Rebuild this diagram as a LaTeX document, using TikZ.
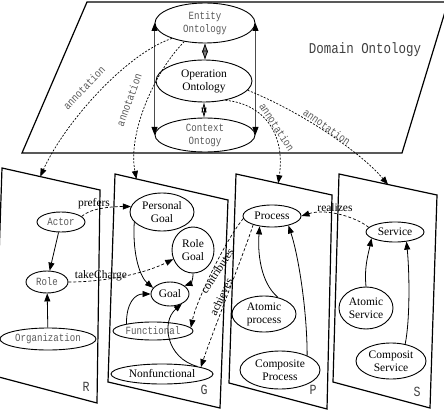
\documentclass[tikz,border=0pt]{standalone}
\usepackage{fontspec}
\setmainfont{Liberation Serif}
\newfontfamily\monofont[FakeStretch=0.83]{Liberation Mono}
\usetikzlibrary{shapes.geometric,arrows.meta}

\begin{document}
\begin{tikzpicture}[x=1pt,y=-1pt,
	tip/.style={-{Triangle[length=8pt,width=6pt]}},
	onto/.style={ellipse,draw,line width=0.9pt,inner sep=0pt,align=center},
	mono/.style={font=\monofont\fontsize{11}{13}\selectfont,text=black!65},
	seri/.style={font=\fontsize{11.5}{13}\selectfont},
	plan/.style={line width=1.2pt},
	annot/.style={tip,line width=0.7pt,dash pattern=on 2pt off 1.5pt},
	rel/.style={tip,line width=0.7pt,dash pattern=on 3pt off 2pt},
	isa/.style={tip,line width=0.8pt},
	letter/.style={font=\monofont\fontsize{14}{16}\selectfont,text=black!75}]

	\useasboundingbox (0,0) rectangle (444,414);

	% domain plane
	\draw[plan] (87,2) -- (448,2) -- (402,153) -- (22,153) -- cycle;
	\node[letter,font=\monofont\fontsize{15}{16}\selectfont] (dom) at (365,50) {Domain Ontology};

	%%% cylinder of ontologies
	\node[onto,mono,minimum width=100pt,minimum height=40pt] (ent) at (205,23) {Entity\\Ontology};
	\node[onto,seri,minimum width=96pt,minimum height=42pt] (ope) at (204,81) {Operation\\Ontology};
	\node[onto,mono,minimum width=100pt,minimum height=34pt] (ctx) at (205,135) {Context\\Ontogy};
	\draw[line width=1pt,black!70,{Triangle[length=8pt,width=6pt,black]}-{Triangle[length=8pt,width=6pt,black]}] (ent.west) -- (ctx.west);
	\draw[line width=1pt,black!70,{Triangle[length=8pt,width=6pt,black]}-{Triangle[length=8pt,width=6pt,black]}] (ent.east) -- (ctx.east);
	\draw[line width=0.8pt,{Triangle[length=9pt,width=6pt,fill=gray]}-{Triangle[length=9pt,width=6pt,fill=gray]}] (ent.south) -- (ent.south |- ope.north);
	\draw[line width=0.8pt,{Triangle[open,length=10pt,width=5pt]}-{Triangle[open,length=10pt,width=5pt]}] (ope.south) -- (ope.south |- ctx.north);

	% lower plans
	\coordinate (r1) at (2,168); \coordinate (r2) at (100,190);
	\coordinate (r3) at (97,403); \coordinate (r4) at (-5,376);
	\coordinate (g1) at (115,174); \coordinate (g2) at (228,200);
	\coordinate (g3) at (220,408); \coordinate (g4) at (108,382);
	\coordinate (p1) at (236,174); \coordinate (p2) at (332,195);
	\coordinate (p3) at (327,409); \coordinate (p4) at (229,383);
	\coordinate (s1) at (339,174); \coordinate (s2) at (437,195);
	\coordinate (s3) at (430,408); \coordinate (s4) at (333,382);
	\draw[plan] (r1) -- (r2) -- (r3) -- (r4) -- cycle;
	\draw[plan] (g1) -- (g2) -- (g3) -- (g4) -- cycle;
	\draw[plan] (p1) -- (p2) -- (p3) -- (p4) -- cycle;
	\draw[plan] (s1) -- (s2) -- (s3) -- (s4) -- cycle;
	\node[letter] (rl) at (86,387) {R};
	\node[letter] (gl) at (204,390) {G};
	\node[letter] (pl) at (313,390) {P};
	\node[letter] (sl) at (417,392) {S};

	%%% annotations
	\path (r1) -- (r2) coordinate[pos=0.39] (rtop);
	\path (g1) -- (g2) coordinate[pos=0.19] (gtop);
	\path (p1) -- (p2) coordinate[pos=0.44] (ptop);
	\path (s1) -- (s2) coordinate[pos=0.5] (stop);
	\draw[annot] (ent.205) .. controls +(-45,15) and +(25,-55) .. (rtop)
		node[mono,rotate=46] at (84,88) {annotation};
	\draw[annot] (ent.222) .. controls +(-30,30) and +(-9,-45) .. (gtop)
		node[mono,rotate=70] at (129,100) {annotation};
	\draw[annot] (ope.318) .. controls +(40,4) and +(7,-48) .. (ptop)
		node[mono,rotate=-57] at (277,127) {annotation};
	\draw[annot] (ope.348) .. controls +(50,20) and +(-30,-35) .. (stop)
		node[mono,rotate=-35] at (327,127) {annotation};

	%%% R
	\node[onto,mono,minimum width=48pt,minimum height=20pt] (act) at (61,222) {Actor};
	\node[onto,mono,minimum width=42pt,minimum height=22pt] (rol) at (47,282) {Role};
	\node[onto,mono,minimum width=96pt,minimum height=22pt] (org) at (48,339) {Organization};
	\draw[isa] (act) -- (rol);
	\draw[isa] (org) -- (rol);

	%%% G
	\node[onto,seri,minimum width=64pt,minimum height=38pt] (pgl) at (162,212) {Personal\\Goal};
	\node[onto,seri,minimum width=42pt,minimum height=46pt] (rgl) at (193,250) {Role\\Goal};
	\node[onto,seri,minimum width=38pt,minimum height=24pt] (gol) at (170,294) {Goal};
	\node[onto,mono,minimum width=80pt,minimum height=18pt] (fun) at (153,331) {Functional};
	\node[onto,seri,minimum width=102pt,minimum height=20pt] (nfn) at (162,374) {Nonfunctional};
	\draw[isa] (pgl.200) .. controls +(-2,35) and +(-12,-10) .. (gol.160);
	\draw[isa] (rgl.south) .. controls +(0,8) and +(6,-2) .. (gol.30);
	\draw[isa] (fun.165) .. controls +(0,-22) and +(-15,0) .. (gol.west);
	\draw[isa] (nfn.12) .. controls +(-31,-8) and +(-21,18) .. (gol.320);

	%%% P
	\node[onto,seri,minimum width=58pt,minimum height=22pt] (prc) at (272,216) {Process};
	\node[onto,seri,minimum width=64pt,minimum height=36pt] (apr) at (264,314) {Atomic\\process};
	\node[onto,seri,minimum width=80pt,minimum height=38pt] (cpr) at (280,370) {Composite\\Process};
	\draw[isa] (apr.50) .. controls +(-18,-15) and +(-2,25) .. (prc.220);
	\draw[isa] (cpr.28) .. controls +(0,-45) and +(10,30) .. (prc.330);

	%%% S
	\node[onto,seri,minimum width=58pt,minimum height=20pt] (srv) at (395,232) {Service};
	\node[onto,seri,minimum width=54pt,minimum height=42pt] (asv) at (366,308) {Atomic\\Service};
	\node[onto,seri,minimum width=70pt,minimum height=36pt] (csv) at (391,361) {Composit\\Service};
	\draw[isa] (asv.north) .. controls +(-2,-20) and +(-3,15) .. (srv.195);
	\draw[isa] (csv.50) .. controls +(5,-25) and +(3,30) .. (srv.320);

	%%% relations between plans
	\draw[rel] (act.15) .. controls +(8,-8) and +(-20,0) .. (pgl.170)
		node[seri] at (94,204) {prefers};
	\draw[rel] (rol.east) .. controls +(35,0) and +(-30,15) .. (rgl.205)
		node[seri] at (101,276) {takeCharge};
	\draw[rel] (prc.185) .. controls +(-20,25) and +(5,-25) .. (fun.5)
		node[seri,rotate=57] at (217,271) {contributes};
	\draw[rel] (prc.205) .. controls +(-8,25) and +(10,-30) .. (nfn.10)
		node[seri,rotate=65] at (221,297) {achieves};
	\draw[rel] (srv.170) .. controls +(-12,-10) and +(25,-8) .. (prc.east)
		node[seri] at (335,208) {realizes};
\end{tikzpicture}
\end{document}
